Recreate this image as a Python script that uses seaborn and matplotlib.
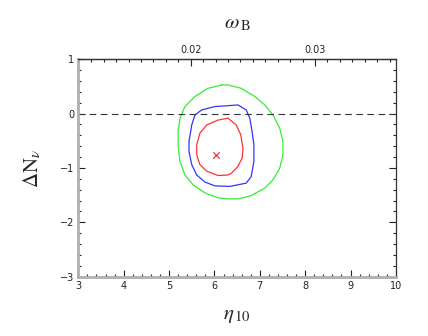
import numpy as np
import pandas as pd
import matplotlib
matplotlib.use("Agg")
import matplotlib.pyplot as plt
from matplotlib.ticker import MultipleLocator
import seaborn as sns

# contour data (eta_10, Delta N_nu)
red_eta = [6.30, 6.48, 6.58, 6.63, 6.61, 6.52, 6.37, 6.30, 6.08, 5.83, 5.68, 5.61, 5.61, 5.68, 5.83, 6.08, 6.30]
red_dn = [-0.086, -0.21, -0.39, -0.64, -0.82, -0.97, -1.10, -1.13, -1.14, -1.06, -0.94, -0.76, -0.58, -0.36, -0.21, -0.12, -0.086]

blue_eta = [6.34, 6.52, 6.70, 6.78, 6.83, 6.87, 6.87, 6.81, 6.70, 6.52, 6.34, 6.01, 5.79, 5.61, 5.50, 5.44, 5.44, 5.50, 5.57, 5.72, 6.01, 6.34]
blue_dn = [0.147, 0.158, 0.066, -0.086, -0.33, -0.58, -0.88, -1.16, -1.28, -1.31, -1.34, -1.33, -1.26, -1.13, -0.94, -0.70, -0.51, -0.21, -0.026, 0.066, 0.128, 0.147]

green_eta = [6.16, 6.30, 6.59, 6.89, 7.11, 7.29, 7.44, 7.51, 7.51, 7.44, 7.29, 7.11, 6.81, 6.52, 6.30, 6.08, 5.79, 5.53, 5.35, 5.24, 5.20, 5.20, 5.24, 5.35, 5.57, 5.86, 6.16]
green_dn = [0.525, 0.525, 0.464, 0.312, 0.158, -0.026, -0.27, -0.51, -0.76, -1.00, -1.22, -1.37, -1.51, -1.57, -1.57, -1.55, -1.46, -1.31, -1.13, -0.88, -0.58, -0.33, -0.086, 0.128, 0.312, 0.464, 0.525]

best_eta = [6.03]
best_dn = [-0.76]

eta_ticks = [3, 4, 5, 6, 7, 8, 9, 10]
dn_ticks = [-3, -2, -1, 0, 1]
omega_ticks = [0.02, 0.03]
ETA_PER_OMEGA = 273.9

sns.set_style("ticks")
plt.rcParams["mathtext.fontset"] = "stix"
plt.rcParams["font.family"] = ["DejaVu Sans"]

fig = plt.figure(figsize=(4.28, 3.36), dpi=100)
ax = fig.add_axes([0.183, 0.1765, 0.742, 0.6475])

for eta, dn, col in [(green_eta, green_dn, "#33ee33"), (blue_eta, blue_dn, "#3333ff"), (red_eta, red_dn, "#ff3333")]:
    df = pd.DataFrame({"eta": eta, "dn": dn})
    sns.lineplot(data=df, x="eta", y="dn", sort=False, estimator=None, color=col, lw=0.9, ax=ax)

sns.scatterplot(x=best_eta, y=best_dn, marker="x", color="#ff3333", s=22, linewidth=0.9, ax=ax)
ax.axhline(0, color="#333333", lw=0.8, ls=(0, (6, 4)))

ax.set_xlim(3, 10)
ax.set_ylim(-3, 1)
ax.set_xticks(eta_ticks)
ax.set_yticks(dn_ticks)
ax.set_xticklabels([str(t) for t in eta_ticks])
ax.set_yticklabels([str(t).replace("-", "\u2212") for t in dn_ticks])
ax.xaxis.set_minor_locator(MultipleLocator(0.2))
ax.yaxis.set_minor_locator(MultipleLocator(0.2))
ax.tick_params(which="both", direction="in", right=True, top=False, labelsize=7, colors="#222222", width=0.8, pad=3)
ax.tick_params(which="major", length=5)
ax.tick_params(which="minor", length=2.5)

for s in ["left", "bottom"]:
    ax.spines[s].set_color("#b0b0b0")
    ax.spines[s].set_linewidth(2.0)
for s in ["top", "right"]:
    ax.spines[s].set_color("#333333")
    ax.spines[s].set_linewidth(0.9)

sec = ax.secondary_xaxis("top", functions=(lambda x: x / ETA_PER_OMEGA, lambda w: w * ETA_PER_OMEGA))
sec.set_xticks(omega_ticks)
sec.set_xticklabels(["0.02", "0.03"])
sec.xaxis.set_minor_locator(MultipleLocator(0.001))
sec.tick_params(which="both", direction="in", labelsize=7, colors="#222222", width=0.8, pad=3)
sec.tick_params(which="major", length=5)
sec.tick_params(which="minor", length=2.5)
sec.spines["top"].set_color("#333333")
sec.spines["top"].set_linewidth(0.9)
sec.set_xlabel(r"$\omega_{\,\rm B}$", fontsize=15, labelpad=12)

ax.set_xlabel(r"$\eta_{\,10}$", fontsize=15, labelpad=10)
ax.set_ylabel(r"$\Delta{\rm N}_\nu$", fontsize=15, labelpad=12)

fig.savefig("out.png", dpi=100)
